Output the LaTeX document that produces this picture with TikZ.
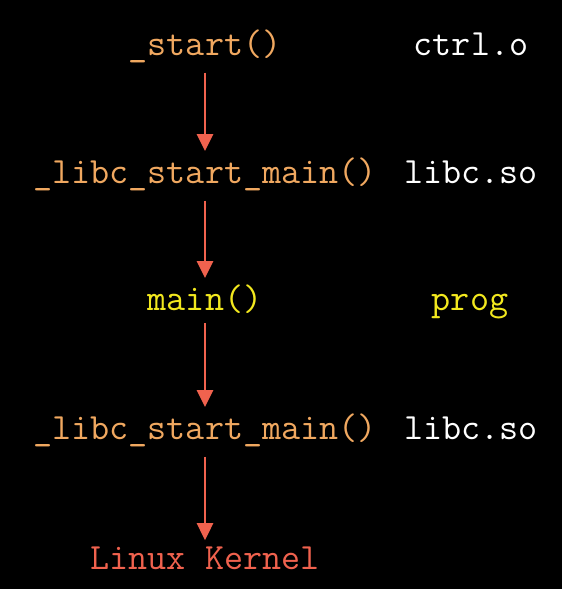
\documentclass[tikz,border=0pt]{standalone}
\usetikzlibrary{arrows.meta}
\definecolor{fnorange}{RGB}{240,168,96}
\definecolor{fnyellow}{RGB}{242,232,30}
\definecolor{fnred}{RGB}{240,98,78}
\tikzset{
  every node/.style={font=\ttfamily\fontsize{37}{41}\selectfont, inner sep=6pt, anchor=base},
  call/.style={-{Triangle[width=16pt,length=17pt]}, line width=2.7pt, draw=fnred, fill=fnred,
    shorten <=4pt},
}
\begin{document}
\begin{tikzpicture}[x=1pt,y=1pt]
    \fill[black] (0,0) rectangle (562,-589);
    \useasboundingbox (0,0) rectangle (562,-589);
    \node[text=fnorange] (n1) at (205,-55) {\_start()};
    \node[text=fnorange] (n2) at (205,-183) {\_libc\_start\_main()};
    \node[text=fnyellow] (n3) at (205,-310) {main()};
    \node[text=fnorange] (n4) at (205,-439) {\_libc\_start\_main()};
    \node[text=fnred] (n5) at (205,-569) {Linux Kernel};
    \node[text=white] (m1) at (471,-55) {ctrl.o};
    \node[text=white] (m2) at (471,-183) {libc.so};
    \node[text=fnyellow] (m3) at (470,-310) {prog};
    \node[text=white] (m4) at (471,-439) {libc.so};
    \path[call]
    (n1) edge (n2)
    (n2) edge (n3)
    (n3) edge (n4)
    (n4) edge (n5)
	;
  \end{tikzpicture}
\end{document}
